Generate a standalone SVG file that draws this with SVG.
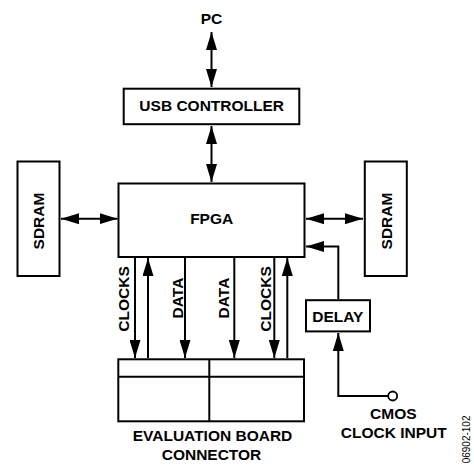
<svg xmlns="http://www.w3.org/2000/svg" width="474" height="466" viewBox="0 0 474 466">
<style>
.box{fill:#fff;stroke:#000;stroke-width:2}
.ln{fill:none;stroke:#000;stroke-width:2}
.t{font-family:"Liberation Sans",Arial,sans-serif;font-weight:bold;font-size:15.5px;fill:#000;text-anchor:middle}
.id{font-family:"Liberation Sans",Arial,sans-serif;font-size:10px;fill:#000;text-anchor:end}
</style>
<defs>
<marker id="ah" markerUnits="userSpaceOnUse" markerWidth="18" markerHeight="11" refX="18" refY="5.5" orient="auto-start-reverse" viewBox="0 0 18 11">
<path d="M0,0 L18,5.5 L0,11 z" fill="#000"/>
</marker>
</defs>
<g id="connectors">
<line class="ln" x1="211.5" y1="32" x2="211.5" y2="87" marker-start="url(#ah)" marker-end="url(#ah)"/>
<line class="ln" x1="211.5" y1="126" x2="211.5" y2="182" marker-start="url(#ah)" marker-end="url(#ah)"/>
<line class="ln" x1="61" y1="218.7" x2="117.5" y2="218.7" marker-start="url(#ah)" marker-end="url(#ah)"/>
<line class="ln" x1="306" y1="218.7" x2="363" y2="218.7" marker-start="url(#ah)" marker-end="url(#ah)"/>
<path class="ln" d="M338.3,299 V246.5 H306" marker-end="url(#ah)"/>
<path class="ln" d="M388.2,396 H338.3 V333" marker-end="url(#ah)"/>
<line class="ln" x1="135" y1="258" x2="135" y2="358" marker-end="url(#ah)"/>
<line class="ln" x1="148" y1="358" x2="148" y2="258" marker-end="url(#ah)"/>
<line class="ln" x1="185" y1="258" x2="185" y2="358" marker-end="url(#ah)"/>
<line class="ln" x1="234.3" y1="258" x2="234.3" y2="358" marker-end="url(#ah)"/>
<line class="ln" x1="274.3" y1="258" x2="274.3" y2="358" marker-end="url(#ah)"/>
<line class="ln" x1="287.3" y1="358" x2="287.3" y2="258" marker-end="url(#ah)"/>
<text class="t" transform="translate(129.3,299) rotate(-90)">CLOCKS</text>
<text class="t" transform="translate(182.5,298) rotate(-90)">DATA</text>
<text class="t" transform="translate(229,298) rotate(-90)">DATA</text>
<text class="t" transform="translate(270.5,299) rotate(-90)">CLOCKS</text>
<circle cx="392.7" cy="396" r="4.5" fill="#fff" stroke="#000" stroke-width="1.8"/>
</g>
<g id="pc"><text class="t" x="211.5" y="24">PC</text></g>
<g id="usb">
<rect class="box" x="123.7" y="88.7" width="175.6" height="35.5"/>
<text class="t" x="211.7" y="111">USB CONTROLLER</text>
</g>
<g id="fpga">
<rect class="box" x="118.5" y="183.5" width="186" height="73.5"/>
<text class="t" x="211.7" y="224.3">FPGA</text>
</g>
<g id="sdram-left">
<rect class="box" x="17.5" y="161.5" width="42" height="114.5"/>
<text class="t" transform="translate(43.5,221) rotate(-90)">SDRAM</text>
</g>
<g id="sdram-right">
<rect class="box" x="364.8" y="161.5" width="42" height="114.5"/>
<text class="t" transform="translate(391.7,221) rotate(-90)">SDRAM</text>
</g>
<g id="delay">
<rect class="box" x="306" y="300.2" width="64" height="31.2"/>
<text class="t" x="337.8" y="321.7">DELAY</text>
</g>
<g id="connector">
<rect class="box" x="118.3" y="359.3" width="185.7" height="62"/>
<line class="ln" x1="118.3" y1="376.7" x2="304" y2="376.7"/>
<line class="ln" x1="209.3" y1="359.3" x2="209.3" y2="421.3"/>
<text class="t" x="212.5" y="440.7">EVALUATION BOARD</text>
<text class="t" x="211.5" y="460">CONNECTOR</text>
</g>
<g id="cmos">
<text class="t" x="393.3" y="419.3">CMOS</text>
<text class="t" x="393.7" y="438.3">CLOCK INPUT</text>
</g>
<text class="id" transform="translate(469.5,415.5) rotate(-90)">06902-102</text>
</svg>
